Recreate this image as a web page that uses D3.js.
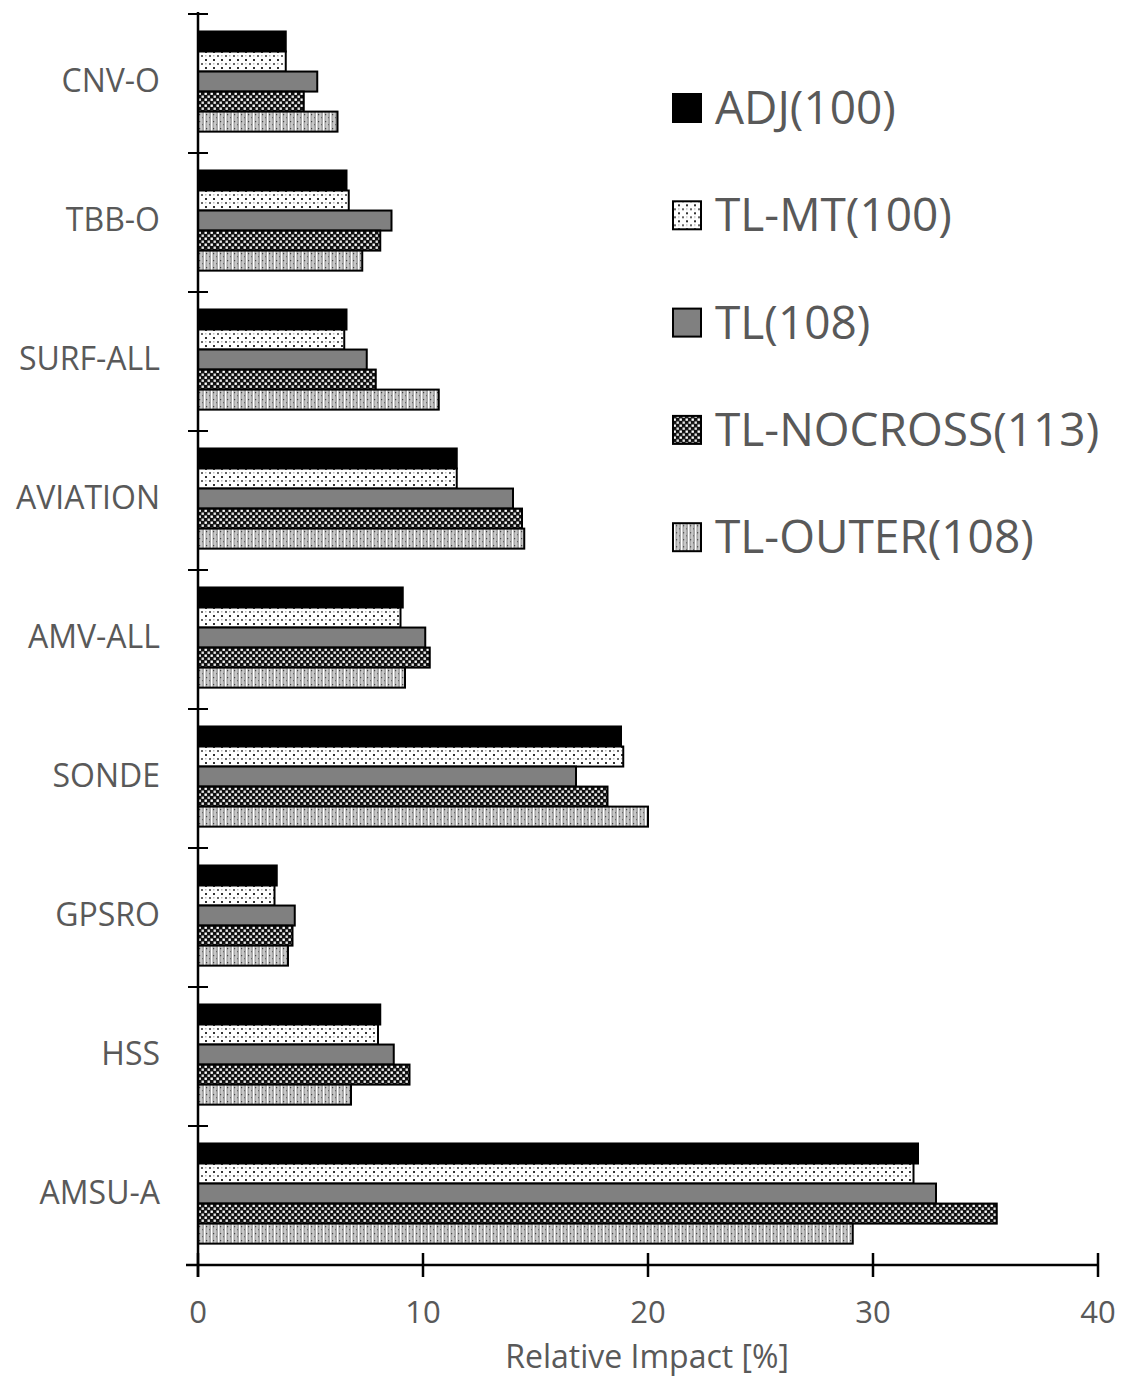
<!DOCTYPE html>
<html>
<head>
<meta charset="utf-8">
<script src="https://d3js.org/d3.v7.min.js"></script>
<style>
  body { margin: 0; background: white; }
  text { font-family: "Open Sans", "Noto Sans", sans-serif; fill: #595959; }
</style>
</head>
<body>
<script>
const categories = ["CNV-O", "TBB-O", "SURF-ALL", "AVIATION", "AMV-ALL", "SONDE", "GPSRO", "HSS", "AMSU-A"];
const seriesNames = ["ADJ(100)", "TL-MT(100)", "TL(108)", "TL-NOCROSS(113)", "TL-OUTER(108)"];

const adj      = [3.9, 6.6, 6.6, 11.5, 9.1, 18.8, 3.5, 8.1, 32.0];
const tlMt     = [3.9, 6.7, 6.5, 11.5, 9.0, 18.9, 3.4, 8.0, 31.8];
const tl       = [5.3, 8.6, 7.5, 14.0, 10.1, 16.8, 4.3, 8.7, 32.8];
const noCross  = [4.7, 8.1, 7.9, 14.4, 10.3, 18.2, 4.2, 9.4, 35.5];
const outer    = [6.2, 7.3, 10.7, 14.5, 9.2, 20.0, 4.0, 6.8, 29.1];

const xTicks = [0, 10, 20, 30, 40];

const seriesValues = [adj, tlMt, tl, noCross, outer];
const fills = ["#000", "url(#pMt)", "#808080", "url(#pNc)", "url(#pOut)"];

const w = 1123, h = 1384;
const svg = d3.select("body").append("svg")
  .attr("width", w)
  .attr("height", h);

// patterns for the hatched bars
const defs = svg.append("defs");

const pMt = defs.append("pattern").attr("id", "pMt")
  .attr("patternUnits", "userSpaceOnUse").attr("width", 8).attr("height", 8);
pMt.append("rect").attr("width", 8).attr("height", 8).attr("fill", "#fff");
pMt.append("rect").attr("x", 1).attr("y", 1).attr("width", 2).attr("height", 2).attr("fill", "#666");
pMt.append("rect").attr("x", 5).attr("y", 5).attr("width", 2).attr("height", 2).attr("fill", "#333");
pMt.append("rect").attr("x", 5).attr("y", 1).attr("width", 1.5).attr("height", 1.5).attr("fill", "#bbb");

const pNc = defs.append("pattern").attr("id", "pNc")
  .attr("patternUnits", "userSpaceOnUse").attr("width", 6).attr("height", 6);
pNc.append("rect").attr("width", 6).attr("height", 6).attr("fill", "#111");
pNc.append("rect").attr("x", 0.5).attr("y", 0.5).attr("width", 2.4).attr("height", 2.4).attr("fill", "#fff");
pNc.append("rect").attr("x", 3.5).attr("y", 3.5).attr("width", 2.4).attr("height", 2.4).attr("fill", "#e6e6e6");

const pOut = defs.append("pattern").attr("id", "pOut")
  .attr("patternUnits", "userSpaceOnUse").attr("width", 7).attr("height", 7);
pOut.append("rect").attr("width", 7).attr("height", 7).attr("fill", "#a9a9a9");
pOut.append("rect").attr("x", 1).attr("width", 1.4).attr("height", 7).attr("fill", "#fff");
pOut.append("rect").attr("x", 4.5).attr("width", 1).attr("height", 7).attr("fill", "#e8e8e8");
pOut.append("rect").attr("x", 3).attr("y", 2).attr("width", 1.2).attr("height", 1.2).attr("fill", "#444");
pOut.append("rect").attr("x", 6).attr("y", 5).attr("width", 1).attr("height", 1.2).attr("fill", "#666");

const x = d3.scaleLinear().domain([0, 40]).range([198, 1098]);
const y = d3.scaleBand().domain(categories).range([14, 1265]).padding(0);
const ySub = d3.scaleBand().domain(d3.range(5)).range([0, y.bandwidth()])
  .paddingInner(0).paddingOuter(0.97).align(0.45);

// bars
const groups = svg.selectAll("g.cat")
  .data(categories)
  .enter()
  .append("g")
  .attr("class", "cat")
  .attr("transform", (d) => "translate(0," + y(d) + ")");

groups.selectAll("rect")
  .data((d, i) => seriesValues.map((s, j) => ({ s: j, v: s[i] })))
  .enter()
  .append("rect")
  .attr("x", x(0))
  .attr("y", (d) => ySub(d.s))
  .attr("width", (d) => x(d.v) - x(0))
  .attr("height", ySub.bandwidth())
  .attr("fill", (d) => fills[d.s])
  .attr("stroke", "#000")
  .attr("stroke-width", 2);

// category labels
svg.selectAll("text.cat")
  .data(categories)
  .enter()
  .append("text")
  .attr("class", "cat")
  .attr("x", 160)
  .attr("y", (d) => y(d) + y.bandwidth() / 2 - 3)
  .attr("dy", "0.35em")
  .attr("text-anchor", "end")
  .attr("font-size", "32px")
  .text((d) => d);

// y axis line + ticks at band edges
svg.append("line")
  .attr("x1", 198).attr("x2", 198)
  .attr("y1", 12).attr("y2", 1277)
  .attr("stroke", "#000").attr("stroke-width", 2.5);

const edges = categories.map((d) => y(d));
svg.selectAll("line.ytick")
  .data(edges)
  .enter()
  .append("line")
  .attr("class", "ytick")
  .attr("x1", 188).attr("x2", 208)
  .attr("y1", (d) => d).attr("y2", (d) => d)
  .attr("stroke", "#000").attr("stroke-width", 2);

// x axis
svg.append("line")
  .attr("x1", 186).attr("x2", x(40))
  .attr("y1", 1265).attr("y2", 1265)
  .attr("stroke", "#000").attr("stroke-width", 2.5);

svg.selectAll("line.xtick")
  .data(xTicks)
  .enter()
  .append("line")
  .attr("class", "xtick")
  .attr("x1", (d) => x(d)).attr("x2", (d) => x(d))
  .attr("y1", 1253).attr("y2", 1277)
  .attr("stroke", "#000").attr("stroke-width", 2.5);

svg.selectAll("text.xlab")
  .data(xTicks)
  .enter()
  .append("text")
  .attr("class", "xlab")
  .attr("x", (d) => x(d))
  .attr("y", 1323)
  .attr("text-anchor", "middle")
  .attr("font-size", "31px")
  .text((d) => d);

svg.append("text")
  .attr("x", 647)
  .attr("y", 1368)
  .attr("text-anchor", "middle")
  .attr("font-size", "32px")
  .text("Relative Impact [%]");

// legend
const legend = svg.selectAll("g.leg")
  .data(seriesNames)
  .enter()
  .append("g")
  .attr("class", "leg")
  .attr("transform", (d, i) => "translate(673," + (108 + i * 107.3) + ")");

legend.append("rect")
  .attr("x", 0).attr("y", -14)
  .attr("width", 28).attr("height", 28)
  .attr("fill", (d, i) => fills[i])
  .attr("stroke", "#000")
  .attr("stroke-width", 2);

legend.append("text")
  .attr("x", 42)
  .attr("y", 0)
  .attr("dy", "0.35em")
  .attr("font-size", "46px")
  .text((d) => d);
</script>
</body>
</html>
